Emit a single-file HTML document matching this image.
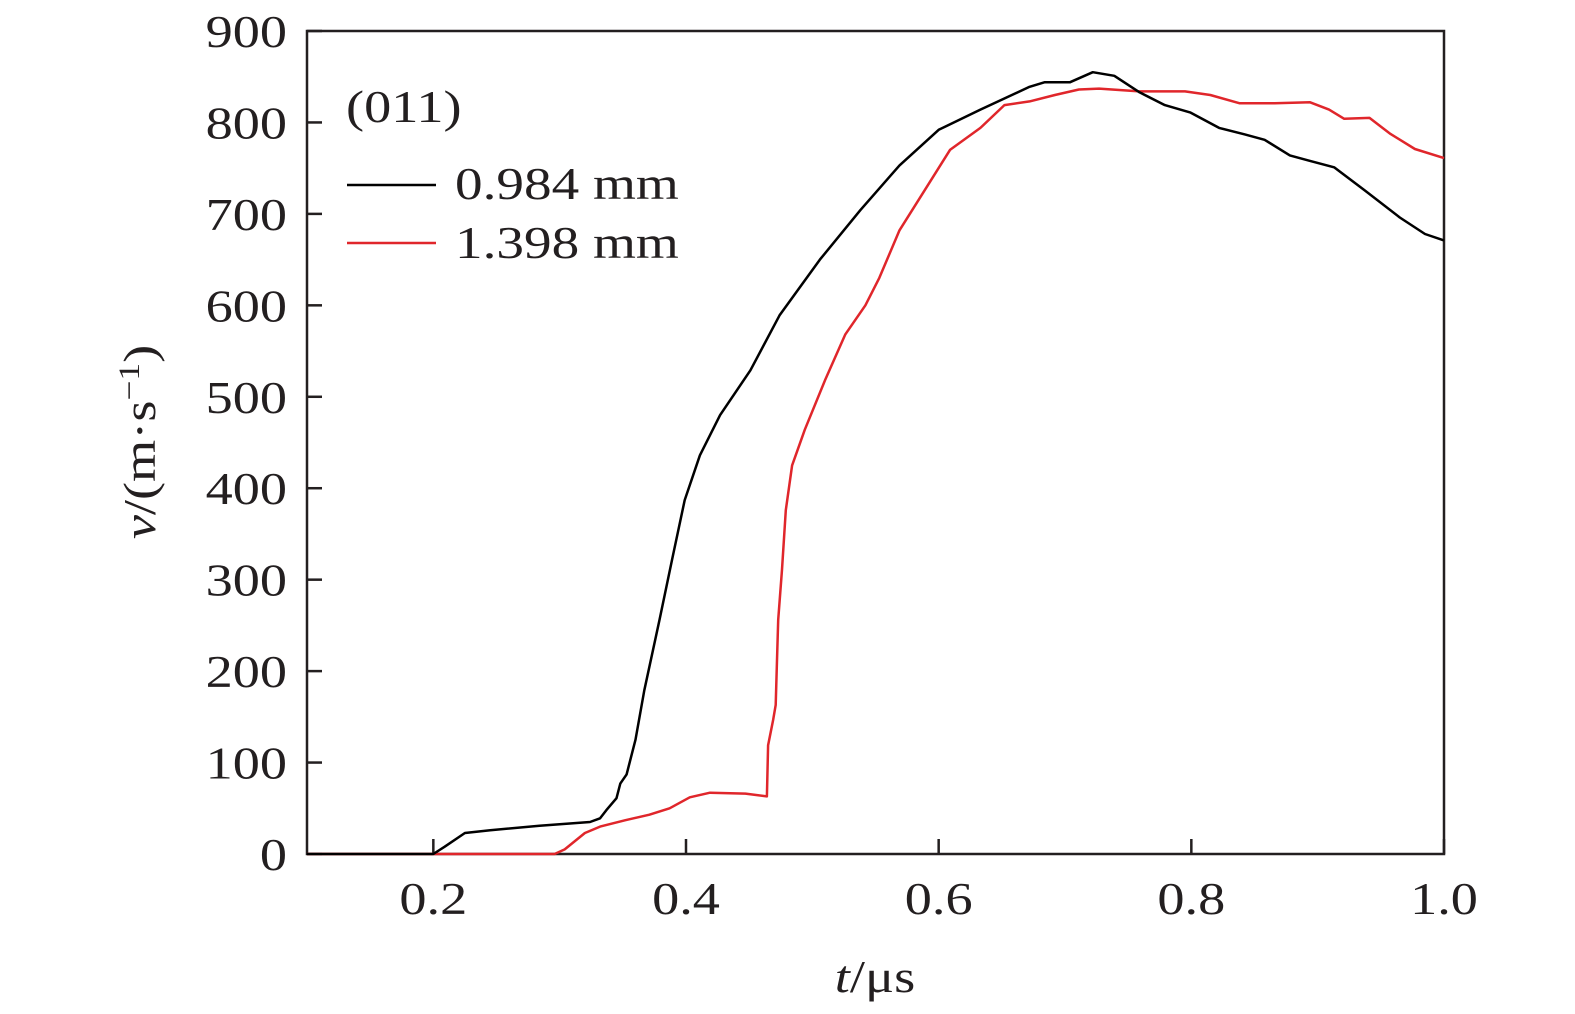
<!DOCTYPE html>
<html><head><meta charset="utf-8"><style>
html,body{margin:0;padding:0;background:#fff;}
svg{display:block;font-family:"Liberation Serif",serif;}
</style></head><body>
<svg id="chart" width="1575" height="1014" viewBox="0 0 1575 1014">
<rect x="307" y="31" width="1137" height="823" fill="none" stroke="#231f20" stroke-width="2.5"/>
<g id="ticks"></g>
<g id="series"></g>
<text transform="translate(346,122) scale(1.18,1)" font-size="46" fill="#231f20">(011)</text>
<line x1="347" y1="185" x2="436" y2="185" stroke="#000" stroke-width="2.5"/>
<text transform="translate(455,199) scale(1.2,1)" font-size="46" fill="#231f20">0.984 mm</text>
<line x1="347" y1="243" x2="436" y2="243" stroke="#e0262b" stroke-width="2.5"/>
<text transform="translate(455,258) scale(1.2,1)" font-size="46" fill="#231f20">1.398 mm</text>
<text transform="translate(875,992) scale(1.18,1)" font-size="46" text-anchor="middle" fill="#231f20"><tspan font-style="italic">t</tspan>/μs</text>
<text transform="translate(155,442) rotate(-90) scale(1.18,1)" font-size="46" text-anchor="middle" fill="#231f20"><tspan font-style="italic">v</tspan>/(m·s<tspan dy="-16" font-size="30">−1</tspan><tspan dy="16">)</tspan></text>
</svg>
<script>
const xTicks=[0.2,0.4,0.6,0.8,1.0];
const xTickLabels=["0.2","0.4","0.6","0.8","1.0"];
const yTicks=[0,100,200,300,400,500,600,700,800,900];
const t1=[0.1,0.2,0.209,0.225,0.245,0.284,0.324,0.332,0.337,0.345,0.348,0.353,0.36,0.367,0.379,0.389,0.399,0.411,0.427,0.451,0.474,0.506,0.538,0.569,0.6,0.633,0.672,0.684,0.704,0.722,0.739,0.759,0.779,0.799,0.822,0.842,0.858,0.878,0.894,0.913,0.937,0.965,0.985,1.0];
const v1=[0,0,8,23,26,31,35,39,48,61,77,87,125,179,256,322,387,436,480,529,589,650,704,753,792,814,839,844,844,855,851,833,819,811,794,787,781,764,758,751,726,696,678,671];
const t2=[0.1,0.296,0.304,0.32,0.332,0.352,0.371,0.387,0.403,0.419,0.447,0.464,0.465,0.469,0.471,0.472,0.473,0.476,0.479,0.484,0.494,0.51,0.526,0.542,0.553,0.569,0.589,0.609,0.633,0.652,0.672,0.692,0.711,0.727,0.759,0.795,0.815,0.838,0.866,0.894,0.909,0.921,0.941,0.957,0.977,1.0];
const v2=[0,0,5,23,30,37,43,50,62,67,66,63,119,147,163,212,256,311,376,425,464,518,568,600,630,682,726,770,794,819,823,830,836,837,834,834,830,821,821,822,814,804,805,788,771,761];
const X=t=>307+(t-0.1)*(1137/0.9);
const Y=v=>854-v*(823/900);
const NS="http://www.w3.org/2000/svg";
const tg=document.getElementById('ticks');
xTicks.forEach((t,i)=>{
  const l=document.createElementNS(NS,'line');
  l.setAttribute('x1',X(t));l.setAttribute('x2',X(t));l.setAttribute('y1',854);l.setAttribute('y2',839);
  l.setAttribute('stroke','#231f20');l.setAttribute('stroke-width','2.5');
  
  
  tg.appendChild(l);
  const tx=document.createElementNS(NS,'text');
  tx.setAttribute('transform','translate('+X(t)+',914) scale(1.18,1)');
  tx.setAttribute('font-size','46');
  tx.setAttribute('text-anchor','middle');tx.setAttribute('fill','#231f20');
  tx.textContent=xTickLabels[i];
  
  
  tg.appendChild(tx);
});
yTicks.forEach(v=>{
  const l=document.createElementNS(NS,'line');
  l.setAttribute('x1',307);l.setAttribute('x2',322);l.setAttribute('y1',Y(v));l.setAttribute('y2',Y(v));
  l.setAttribute('stroke','#231f20');l.setAttribute('stroke-width','2.5');
  
  
  tg.appendChild(l);
  const tx=document.createElementNS(NS,'text');
  tx.setAttribute('transform','translate(287,'+(Y(v)+16)+') scale(1.18,1)');
  tx.setAttribute('font-size','46');
  tx.setAttribute('text-anchor','end');tx.setAttribute('fill','#231f20');
  tx.textContent=String(v);
  
  
  tg.appendChild(tx);
});
const sg=document.getElementById('series');
function line(ts,vs,color,name){
  const p=document.createElementNS(NS,'polyline');
  p.setAttribute('points',ts.map((t,i)=>X(t).toFixed(1)+','+Y(vs[i]).toFixed(1)).join(' '));
  p.setAttribute('fill','none');p.setAttribute('stroke',color);p.setAttribute('stroke-width','2.5');
  p.setAttribute('stroke-linejoin','round');
  
  
  sg.appendChild(p);
}
line(t2,v2,'#e0262b','series-1398mm');
line(t1,v1,'#000','series-0984mm');
</script>
</body></html>
